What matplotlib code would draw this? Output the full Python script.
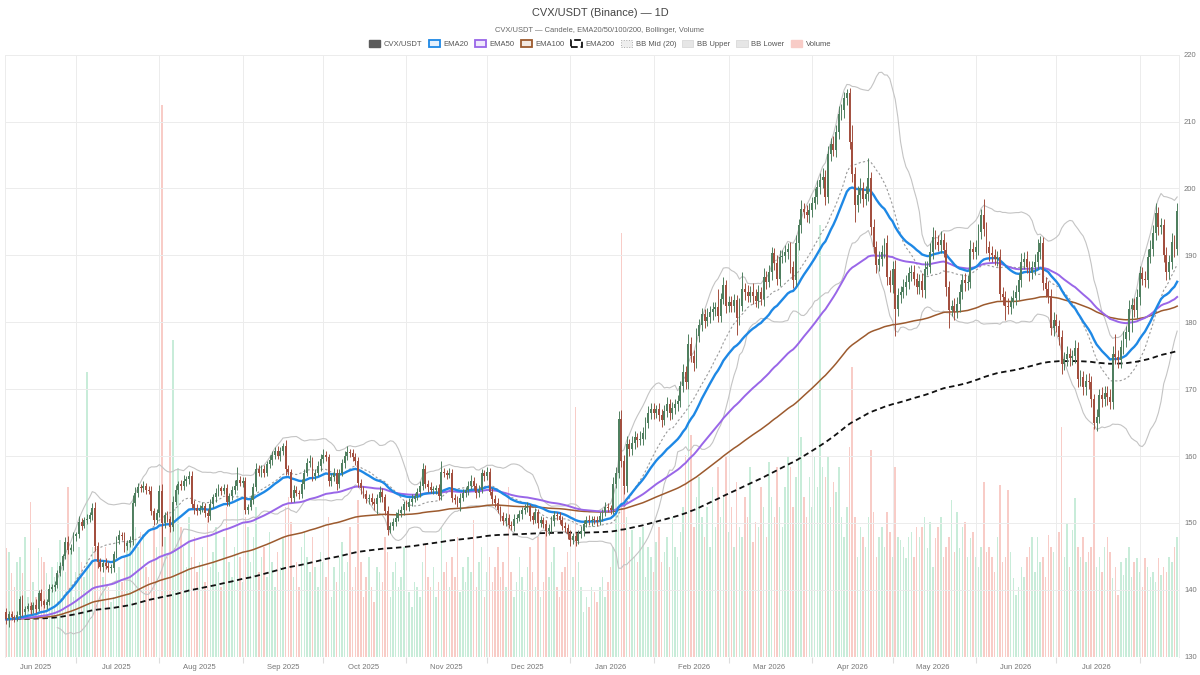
import matplotlib
matplotlib.use("Agg")
import matplotlib.pyplot as plt
import matplotlib.dates as mdates
import matplotlib.ticker as mticker
from matplotlib.patches import Patch
import numpy as np
import pandas as pd

plt.rcParams['font.family'] = ['Liberation Sans', 'DejaVu Sans']

# daily candles, CVX/USDT
start_day = "2025-06-05"
first_open = 136.7

close = [
    135.6, 136.4, 136.0, 135.8, 136.3, 138.6, 136.7, 137.2, 137.6, 137.0,
    137.8, 137.2, 139.5, 138.3, 137.8, 138.2, 140.2, 140.5, 140.8, 142.5,
    143.6, 145.0, 147.2, 146.0, 146.3, 148.0, 148.3, 150.2, 149.6, 150.4,
    150.6, 151.2, 152.2, 146.6, 144.2, 143.4, 144.0, 143.6, 143.2, 143.3,
    145.3, 147.5, 148.2, 148.0, 146.5, 147.0, 147.4, 153.0, 154.5, 155.4,
    155.2, 155.6, 155.0, 154.8, 151.8, 150.5, 151.5, 154.8, 150.0, 151.2,
    150.6, 149.4, 153.2, 155.0, 155.8, 155.5, 156.2, 156.5, 157.0, 152.9,
    152.2, 151.8, 152.3, 152.5, 151.5, 151.0, 152.8, 153.9, 154.5, 155.2,
    154.8, 155.2, 153.2, 154.0, 155.0, 155.6, 156.4, 156.0, 156.2, 152.0,
    152.4, 153.5, 155.4, 158.1, 157.5, 158.0, 157.5, 158.8, 159.4, 160.2,
    160.8, 160.0, 160.8, 161.5, 158.0, 157.6, 153.8, 155.0, 154.5, 154.3,
    155.8, 157.5, 158.9, 159.3, 157.0, 157.5, 158.5, 159.5, 160.1, 159.8,
    156.2, 156.8, 157.5, 155.8, 157.5, 158.9, 160.0, 160.6, 160.4, 159.8,
    159.3, 156.0, 155.2, 154.3, 153.6, 153.8, 153.2, 152.8, 153.8, 154.7,
    153.9, 151.8, 149.0, 149.6, 150.2, 150.8, 151.5, 151.9, 152.8, 152.4,
    153.2, 153.6, 154.0, 154.6, 155.5, 158.0, 155.9, 155.4, 155.0, 155.0,
    155.2, 154.0, 157.6, 157.4, 157.2, 157.5, 153.8, 153.5, 153.0, 153.8,
    154.5, 154.9, 155.6, 156.3, 155.5, 154.5, 155.0, 157.4, 157.0, 157.6,
    154.7, 153.6, 153.0, 152.0, 151.0, 150.3, 150.8, 149.7, 149.5, 150.6,
    150.8, 151.3, 151.9, 152.2, 152.4, 151.0, 150.5, 151.6, 150.0, 150.4,
    149.8, 148.8, 149.2, 150.3, 151.2, 151.0, 150.4, 149.6, 149.2, 148.4,
    147.5, 148.0, 147.3, 148.4, 148.8, 149.9, 150.5, 150.3, 150.5, 150.4,
    150.2, 151.0, 151.6, 152.4, 152.2, 152.0, 155.8, 157.5, 165.5, 159.2,
    155.5, 161.8, 161.0, 162.0, 162.8, 162.4, 162.6, 163.5, 165.0, 166.5,
    167.1, 166.5, 167.0, 166.2, 165.4, 166.8, 167.8, 166.4, 167.2, 167.8,
    168.2, 170.4, 172.6, 171.1, 176.8, 175.0, 173.9, 178.0, 179.6, 181.2,
    180.2, 180.8, 181.5, 182.0, 182.3, 181.0, 183.5, 185.5, 182.5, 183.0,
    182.5, 183.3, 180.6, 182.5, 185.0, 184.5, 184.0, 184.6, 184.0, 183.2,
    184.5, 183.5, 186.8, 186.0, 187.5, 190.3, 188.8, 186.5, 189.8, 189.9,
    190.5, 191.0, 188.3, 186.3, 191.8, 194.5, 197.0, 196.5, 196.0, 196.8,
    197.8, 198.8, 200.2, 201.2, 201.7, 198.8, 205.2, 206.7, 205.7, 208.5,
    211.2, 211.7, 213.5, 214.2, 207.0, 202.2, 197.5, 199.0, 200.0, 198.5,
    199.2, 201.5, 194.3, 191.3, 188.6, 189.5, 190.5, 191.8, 186.8, 185.5,
    188.0, 182.0, 184.1, 184.5, 185.2, 186.0, 187.3, 187.5, 186.5, 185.3,
    186.2, 184.8, 188.0, 188.3, 190.5, 192.8, 192.0, 191.5, 192.3, 190.8,
    185.2, 181.9, 182.5, 181.5, 182.8, 184.5, 186.3, 185.8, 186.0, 191.0,
    190.5, 191.2, 193.5, 196.0, 194.0, 191.3, 190.3, 190.0, 189.5, 189.8,
    184.3, 183.8, 182.5, 182.3, 183.0, 183.6, 184.5, 186.3, 189.0, 189.5,
    188.3, 187.3, 188.2, 189.0, 190.5, 191.8, 185.8, 185.0, 184.0, 179.1,
    180.3, 179.5, 177.8, 173.8, 174.5, 175.2, 174.6, 175.0, 176.1, 171.5,
    171.8, 170.3, 171.2, 171.0, 168.5, 165.0, 165.9, 169.1, 168.5, 169.5,
    168.9, 168.1, 175.3, 174.8, 174.3, 176.3, 177.5, 178.5, 182.0, 182.6,
    181.8, 183.8, 187.3, 186.5, 186.3, 189.8, 191.0, 193.3, 196.3, 194.3,
    194.5, 190.0, 187.5, 189.0, 192.0, 191.0, 196.6,
]

upper_wick = [
    0.6, 0.4, 0.5, 0.3, 0.6, 0.5, 0.7, 0.4, 0.5, 0.6,
    0.4, 0.8, 0.5, 0.6, 0.4, 0.5, 0.7, 0.4, 0.6, 0.5,
    0.6, 0.4, 0.7, 0.9, 0.5, 0.6, 0.4, 0.8, 0.6, 0.5,
    0.7, 0.5, 0.8, 1.0, 0.6, 0.5, 0.4, 0.7, 0.5, 0.6,
    0.5, 0.6, 0.8, 0.5, 0.7, 0.4, 0.6, 1.2, 0.9, 0.6,
    0.5, 0.7, 0.4, 0.6, 0.8, 0.5, 0.6, 0.9, 1.0, 0.5,
    0.6, 0.4, 0.8, 0.7, 0.5, 0.6, 0.9, 0.5, 0.7, 0.8,
    0.5, 0.6, 0.4, 0.7, 0.5, 0.6, 0.8, 0.5, 0.7, 0.6,
    0.4, 0.6, 0.7, 0.5, 0.6, 0.8, 1.9, 0.6, 0.7, 0.6,
    0.5, 0.7, 0.6, 0.8, 0.5, 0.6, 0.7, 0.5, 0.8, 0.6,
    0.5, 0.7, 0.6, 0.5, 0.9, 0.6, 0.5, 0.7, 0.6, 0.5,
    0.7, 0.6, 0.8, 0.9, 0.5, 0.6, 0.7, 0.8, 1.0, 0.6,
    0.5, 0.6, 0.7, 0.5, 0.6, 0.7, 0.8, 0.9, 0.5, 0.6,
    0.7, 0.6, 0.5, 0.4, 0.6, 0.5, 0.7, 0.6, 0.5, 0.8,
    0.6, 0.5, 0.7, 0.6, 0.5, 0.8, 0.6, 0.7, 0.5, 0.6,
    0.6, 0.7, 0.5, 0.6, 0.8, 1.0, 0.6, 0.5, 0.7, 0.6,
    0.5, 0.6, 1.6, 0.6, 0.5, 0.7, 0.6, 0.5, 0.6, 0.7,
    0.6, 0.5, 0.7, 0.8, 0.6, 0.5, 0.7, 0.6, 0.5, 0.7,
    0.6, 0.5, 0.6, 0.7, 0.5, 0.6, 0.7, 0.5, 0.6, 0.8,
    0.6, 0.7, 0.5, 0.6, 0.8, 0.5, 0.6, 0.7, 0.5, 0.6,
    0.5, 0.6, 0.7, 0.8, 0.6, 0.5, 0.7, 0.6, 0.5, 0.7,
    0.6, 0.5, 0.7, 0.6, 0.8, 0.6, 0.5, 0.7, 0.6, 0.5,
    0.6, 0.7, 0.5, 0.8, 0.6, 0.5, 1.0, 0.9, 1.2, 1.4,
    1.0, 1.2, 0.8, 1.0, 0.9, 0.7, 1.1, 0.8, 0.9, 1.0,
    0.8, 0.9, 0.7, 1.0, 0.8, 0.9, 1.1, 0.8, 0.9, 0.7,
    1.0, 0.8, 1.2, 0.9, 1.5, 1.0, 0.8, 1.1, 0.9, 1.0,
    0.8, 1.3, 0.9, 1.0, 0.8, 2.6, 0.9, 1.2, 0.8, 1.0,
    0.9, 1.0, 0.8, 1.1, 2.5, 0.9, 1.0, 0.8, 1.2, 0.9,
    1.0, 0.8, 1.3, 0.9, 1.1, 1.0, 0.8, 1.2, 1.0, 0.9,
    1.1, 0.9, 1.0, 0.8, 1.2, 1.0, 1.3, 0.9, 1.0, 1.1,
    0.9, 1.2, 1.0, 1.1, 1.3, 1.0, 1.2, 0.9, 1.1, 1.0,
    1.2, 1.0, 0.9, 0.6, 0.8, 2.5, 1.0, 1.3, 1.5, 1.0,
    1.2, 3.0, 1.0, 1.2, 0.9, 1.1, 1.0, 0.8, 1.2, 1.0,
    1.1, 1.3, 1.0, 0.9, 1.2, 1.0, 0.9, 1.1, 1.0, 0.8,
    1.0, 1.2, 1.1, 0.9, 1.3, 1.5, 1.0, 1.1, 1.3, 1.0,
    1.2, 1.0, 0.9, 1.1, 1.0, 1.2, 0.9, 1.0, 1.1, 1.3,
    1.0, 1.1, 1.2, 1.0, 2.5, 1.0, 0.9, 1.1, 1.0, 0.9,
    1.2, 1.0, 0.9, 1.1, 1.0, 1.2, 1.1, 1.0, 1.3, 1.0,
    1.1, 0.9, 1.0, 1.2, 2.0, 1.1, 1.0, 0.9, 1.1, 1.0,
    1.2, 1.0, 0.9, 1.1, 1.0, 1.2, 1.0, 0.9, 1.3, 1.0,
    1.1, 0.9, 1.0, 1.2, 1.0, 0.8, 1.1, 1.0, 1.2, 0.9,
    1.0, 1.1, 1.2, 3.0, 1.0, 1.1, 1.2, 1.0, 1.3, 1.1,
    1.0, 1.2, 1.1, 1.0, 1.2, 1.1, 1.3, 1.2, 1.5, 1.0,
    1.1, 1.0, 1.2, 1.1, 1.3, 1.0, 1.2,
]

lower_wick = [
    0.7, 1.2, 0.5, 0.6, 0.4, 0.5, 0.6, 0.5, 0.4, 0.6,
    0.5, 0.6, 0.4, 0.7, 0.5, 0.6, 0.4, 0.5, 0.6, 0.5,
    0.5, 0.6, 0.4, 0.7, 0.6, 0.5, 0.7, 0.5, 0.6, 0.4,
    0.6, 0.5, 0.7, 0.8, 0.9, 0.6, 0.7, 0.5, 0.6, 0.7,
    0.6, 0.5, 0.7, 0.6, 0.8, 0.5, 0.6, 0.7, 0.5, 0.6,
    0.5, 0.6, 0.7, 0.5, 0.6, 0.8, 0.5, 0.6, 3.5, 0.7,
    0.5, 0.8, 0.6, 0.5, 0.7, 0.6, 0.5, 0.6, 0.7, 0.6,
    0.8, 0.6, 0.5, 0.7, 0.6, 0.8, 0.5, 0.6, 0.7, 0.5,
    0.6, 0.5, 0.7, 0.6, 0.5, 0.6, 0.7, 0.5, 0.6, 0.7,
    0.6, 0.5, 0.7, 0.6, 0.5, 0.7, 0.6, 0.5, 0.6, 0.7,
    0.6, 0.5, 0.7, 0.6, 0.8, 0.5, 0.7, 0.6, 0.5, 0.7,
    0.6, 0.7, 0.5, 0.6, 0.8, 0.6, 0.5, 0.7, 0.6, 0.5,
    0.7, 0.6, 0.5, 0.8, 0.6, 0.5, 0.7, 0.6, 0.5, 0.6,
    0.7, 0.6, 0.8, 0.5, 0.6, 0.7, 0.5, 0.8, 1.5, 0.6,
    0.7, 0.6, 0.8, 0.5, 0.6, 0.7, 0.5, 0.6, 0.7, 0.5,
    0.6, 0.7, 0.5, 0.6, 0.7, 0.5, 0.6, 0.7, 0.5, 0.6,
    0.7, 0.6, 0.5, 0.6, 0.7, 0.5, 0.6, 0.7, 0.6, 1.2,
    0.5, 0.6, 0.7, 0.5, 0.6, 0.7, 0.6, 0.5, 0.7, 0.6,
    0.5, 0.7, 0.6, 0.5, 0.7, 0.6, 0.8, 0.5, 0.6, 0.7,
    0.6, 0.5, 0.7, 0.6, 0.5, 0.7, 0.6, 0.5, 0.7, 0.6,
    0.5, 0.7, 0.6, 0.5, 0.7, 0.6, 0.5, 0.7, 0.6, 0.8,
    0.9, 0.6, 0.8, 0.5, 0.6, 0.7, 0.5, 0.6, 0.7, 0.5,
    0.6, 0.5, 0.7, 0.6, 0.5, 0.6, 0.7, 0.6, 0.8, 0.9,
    1.2, 0.9, 1.0, 0.8, 0.9, 1.0, 0.8, 0.9, 1.0, 0.8,
    0.9, 1.0, 0.8, 0.9, 1.1, 0.8, 0.9, 1.0, 0.8, 0.9,
    1.0, 0.9, 0.8, 1.1, 1.0, 0.9, 1.2, 0.8, 1.0, 0.9,
    1.0, 0.8, 0.9, 1.1, 1.0, 0.9, 1.0, 0.8, 1.1, 0.9,
    1.0, 0.9, 2.5, 1.0, 0.8, 1.1, 0.9, 1.0, 1.2, 0.9,
    1.0, 0.9, 1.1, 1.0, 0.8, 1.2, 1.0, 0.9, 1.1, 1.0,
    0.9, 1.1, 1.0, 1.2, 0.9, 1.0, 1.1, 0.9, 1.0, 1.2,
    1.0, 0.9, 1.1, 1.0, 1.2, 1.3, 1.0, 1.1, 0.9, 1.0,
    1.1, 1.0, 1.2, 1.0, 1.1, 1.2, 2.5, 1.0, 1.1, 1.2,
    1.0, 1.1, 1.3, 1.0, 1.2, 1.0, 1.1, 0.9, 1.2, 1.0,
    1.1, 4.0, 1.0, 1.2, 0.9, 1.1, 1.0, 1.2, 0.9, 1.0,
    1.1, 1.0, 1.2, 0.9, 1.0, 1.1, 1.0, 0.9, 1.1, 1.0,
    1.2, 2.8, 1.0, 1.1, 0.9, 1.2, 1.0, 1.1, 1.0, 0.9,
    1.1, 1.0, 1.2, 1.0, 1.1, 1.0, 1.2, 1.0, 0.9, 1.1,
    1.0, 1.2, 2.2, 1.0, 1.1, 0.9, 1.0, 1.2, 1.0, 1.1,
    1.0, 1.1, 0.9, 1.2, 1.0, 1.1, 1.0, 1.2, 1.1, 1.0,
    1.1, 1.0, 1.2, 1.5, 1.0, 1.1, 1.2, 1.0, 1.1, 1.2,
    1.0, 1.1, 1.2, 1.0, 1.1, 1.0, 1.2, 1.0, 1.1, 1.0,
    1.2, 1.0, 1.1, 1.0, 1.2, 1.1, 1.0, 1.2, 1.1, 3.5,
    1.0, 1.1, 1.2, 1.0, 1.1, 1.2, 1.0, 1.1, 1.0, 1.2,
    1.1, 1.0, 1.2, 1.0, 1.1, 1.2, 1.0,
]

volume = [
    109, 105, 84, 70, 95, 100, 84, 120, 60, 155,
    75, 60, 109, 100, 95, 84, 70, 90, 80, 95,
    117, 100, 85, 170, 110, 60, 85, 110, 95, 80,
    285, 90, 110, 110, 100, 95, 80, 110, 70, 55,
    60, 84, 90, 75, 100, 115, 117, 157, 130, 110,
    125, 120, 90, 80, 95, 130, 110, 150, 552, 120,
    100, 217, 317, 150, 189, 130, 110, 90, 140, 100,
    120, 85, 95, 110, 75, 140, 90, 105, 130, 85,
    70, 120, 150, 95, 80, 110, 165, 100, 75, 140,
    130, 95, 120, 150, 85, 100, 110, 80, 125, 95,
    70, 105, 90, 120, 150, 160, 135, 80, 95, 70,
    110, 125, 100, 85, 120, 90, 70, 105, 95, 80,
    140, 60, 90, 75, 100, 115, 85, 95, 130, 70,
    90, 157, 95, 60, 80, 100, 70, 55, 90, 85,
    75, 120, 105, 60, 85, 95, 70, 80, 110, 55,
    65, 50, 75, 70, 60, 95, 113, 80, 70, 90,
    60, 75, 130, 85, 95, 70, 100, 80, 120, 65,
    90, 75, 100, 85, 137, 70, 95, 110, 60, 85,
    100, 75, 90, 110, 80, 95, 70, 170, 85, 60,
    75, 100, 80, 65, 90, 110, 85, 70, 120, 60,
    75, 137, 80, 95, 110, 70, 60, 85, 90, 105,
    120, 80, 250, 95, 70, 45, 60, 50, 70, 65,
    55, 70, 80, 60, 75, 90, 110, 170, 200, 424,
    170, 140, 110, 127, 100, 95, 120, 130, 80, 110,
    100, 85, 115, 130, 95, 105, 120, 90, 140, 110,
    100, 125, 150, 202, 300, 222, 130, 160, 180, 140,
    120, 150, 110, 170, 130, 190, 140, 160, 200, 125,
    150, 110, 175, 130, 120, 160, 140, 190, 115, 135,
    130, 170, 150, 120, 195, 160, 140, 190, 150, 130,
    170, 200, 190, 150, 180, 430, 220, 160, 140, 180,
    150, 200, 170, 432, 190, 180, 200, 150, 175, 165,
    190, 140, 120, 150, 210, 290, 140, 100, 130, 120,
    110, 140, 207, 145, 100, 120, 130, 110, 145, 125,
    100, 190, 120, 117, 110, 99, 120, 125, 100, 130,
    120, 130, 140, 109, 135, 90, 119, 130, 140, 100,
    110, 120, 157, 105, 145, 109, 130, 135, 100, 119,
    125, 100, 90, 110, 175, 105, 110, 100, 85, 120,
    172, 95, 100, 167, 105, 79, 62, 70, 90, 80,
    100, 110, 120, 85, 120, 95, 100, 80, 122, 110,
    105, 120, 125, 230, 100, 134, 90, 127, 159, 110,
    100, 120, 95, 105, 110, 230, 90, 100, 85, 110,
    120, 105, 79, 90, 62, 95, 82, 99, 110, 80,
    95, 99, 85, 70, 99, 90, 80, 85, 75, 99,
    82, 90, 85, 100, 95, 110, 120,
]

assert len(close) == len(upper_wick) == len(lower_wick) == len(volume)

# ---- series ----
dates = pd.date_range(start_day, periods=len(close), freq="D")
c = pd.Series(close, index=dates)
o = c.shift(1)
o.iloc[0] = first_open
top = np.maximum(o.values, c.values)
bot = np.minimum(o.values, c.values)
high = top + np.array(upper_wick)
low = bot - np.array(lower_wick)
up = c.values >= o.values

# moving averages, smoothed like the source chart (span 1.5 x period)
ema = {n: c.ewm(span=1.5 * n, adjust=False).mean() for n in (20, 50, 100, 200)}
bb_mid = c.rolling(20).mean()
bb_sd = c.rolling(20).std(ddof=0)
bb_up = bb_mid + 2 * bb_sd
bb_lo = bb_mid - 2 * bb_sd

x = mdates.date2num(dates)

C_UP, C_DN = "#4f7f5f", "#a34f3f"
V_UP, V_DN = "#c8ecd9", "#f8ccc7"
GRID = "#ececec"

fig = plt.figure(figsize=(12, 6.75), dpi=100)
fig.patch.set_facecolor("white")
ax = fig.add_axes([5 / 1200, 0.027, 1173.5 / 1200, 0.892])
axv = ax.twinx()
ax.set_zorder(axv.get_zorder() + 1)
ax.patch.set_visible(False)

# volume
axv.bar(x, volume, width=0.55, color=np.where(up, V_UP, V_DN), linewidth=0)
axv.set_ylim(0, max(volume) / 0.917)
axv.set_yticks([])
for s in axv.spines.values():
    s.set_visible(False)

# bollinger
ax.plot(x, bb_up, color="#c4c4c4", lw=0.8, zorder=2)
ax.plot(x, bb_lo, color="#c4c4c4", lw=0.8, zorder=2)
ax.plot(x, bb_mid, color="#9a9a9a", lw=0.8, ls=(0, (2, 2)), zorder=2)

# emas
ax.plot(x, ema[200], color="#111111", lw=1.3, ls=(0, (3, 2)), zorder=3)
ax.plot(x, ema[100], color="#9c5a2e", lw=1.1, zorder=3)
ax.plot(x, ema[50], color="#9966e8", lw=1.4, zorder=3)
ax.plot(x, ema[20], color="#1e88e5", lw=1.7, zorder=3)

# candles
cols = np.where(up, C_UP, C_DN)
ax.vlines(x, low, high, colors=cols, lw=0.7, zorder=4)
ax.bar(x, np.maximum(top - bot, 0.15), bottom=bot, width=0.7, color=cols,
       linewidth=0, zorder=5)

ax.set_xlim(x[0] - 0.5, x[-1] + 0.5)
ax.set_ylim(130, 220)
ax.set_yticks(range(130, 221, 10))
ax.yaxis.tick_right()

# grid at month starts, labels in the middle of each month
ax.xaxis.set_major_locator(mdates.MonthLocator())
ax.xaxis.set_major_formatter(mticker.NullFormatter())
ax.xaxis.set_minor_locator(mdates.MonthLocator(bymonthday=16))
ax.xaxis.set_minor_formatter(mdates.DateFormatter("%b %Y"))
ax.tick_params(axis="x", which="major", length=4, color="#dddddd")
ax.tick_params(axis="x", which="minor", length=0, pad=5, labelsize=5.5, labelcolor="#777777")
ax.tick_params(axis="y", length=0, pad=4, labelsize=5.5, labelcolor="#777777")
ax.grid(True, which="major", color=GRID, lw=0.7, zorder=0)
ax.set_axisbelow(True)
for side in ("top", "bottom"):
    ax.spines[side].set_visible(False)
for side in ("left", "right"):
    ax.spines[side].set_color(GRID)
    ax.spines[side].set_linewidth(0.7)

fig.text(0.5, 1 - 13 / 675, "CVX/USDT (Binance) — 1D", ha="center", va="center",
         fontsize=7.9, color="#444444")
fig.text(0.5, 1 - 30 / 675, "CVX/USDT — Candele, EMA20/50/100/200, Bollinger, Volume",
         ha="center", va="center", fontsize=5.4, color="#666666")

handles = [
    Patch(facecolor="#5b5b5b", edgecolor="#5b5b5b", label="CVX/USDT"),
    Patch(facecolor="#e6f1fc", edgecolor="#1e88e5", lw=1.3, label="EMA20"),
    Patch(facecolor="#efe8fc", edgecolor="#9966e8", lw=1.3, label="EMA50"),
    Patch(facecolor="#f3e9e1", edgecolor="#9c5a2e", lw=1.3, label="EMA100"),
    Patch(facecolor="white", edgecolor="#111111", lw=1.3, ls="--", label="EMA200"),
    Patch(facecolor="#eeeeee", edgecolor="#aaaaaa", lw=0.7, ls=":", label="BB Mid (20)"),
    Patch(facecolor="#e6e6e6", edgecolor="#dddddd", lw=0.7, label="BB Upper"),
    Patch(facecolor="#e6e6e6", edgecolor="#dddddd", lw=0.7, label="BB Lower"),
    Patch(facecolor="#f8ccc7", edgecolor="#f8ccc7", label="Volume"),
]
fig.legend(handles=handles, loc="center", bbox_to_anchor=(0.5, 1 - 44 / 675), ncol=9,
           frameon=False, fontsize=5.5, handlelength=1.45, handleheight=1.1,
           handletextpad=0.5, columnspacing=0.8, labelcolor="#555555")

fig.savefig("out.png", dpi=100, facecolor="white")
